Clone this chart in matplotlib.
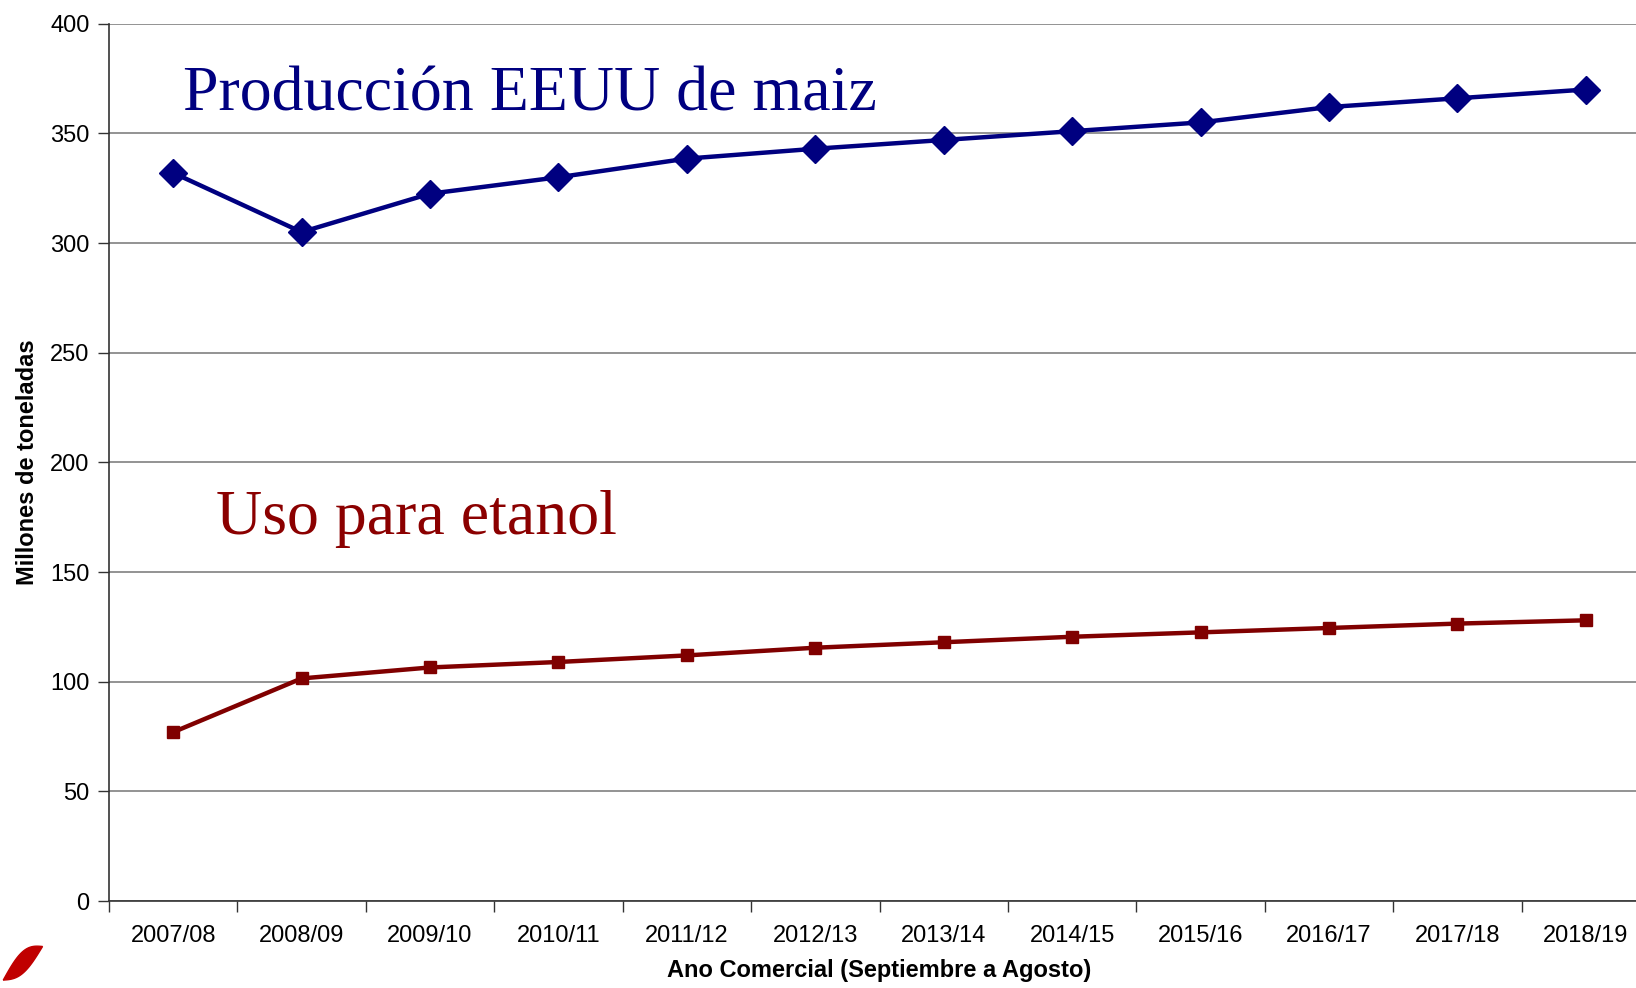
import numpy as np
import matplotlib.pyplot as plt
from matplotlib.patches import Polygon

# campaign years (Sept - Aug)
years = ['2007/08', '2008/09', '2009/10', '2010/11', '2011/12', '2012/13',
         '2013/14', '2014/15', '2015/16', '2016/17', '2017/18', '2018/19']
# US corn production, million tonnes
produccion = [332, 305, 322.5, 330, 338.5, 343, 347, 351, 355, 362, 366, 370]
# corn used for ethanol, million tonnes
etanol = [77, 101.5, 106.5, 109, 112, 115.5, 118, 120.5, 122.5, 124.5, 126.5, 128]

plt.rcParams['font.family'] = ['Liberation Sans', 'DejaVu Sans']

fig = plt.figure(figsize=(16.36, 9.88), dpi=100)
ax = fig.add_axes([0.0666, 0.088, 0.942, 0.888])

x = np.arange(len(years)) + 0.5
ax.plot(x, produccion, color='#000080', lw=3.2, marker='D', markersize=14,
        clip_on=False, zorder=3)
ax.plot(x, etanol, color='#800000', lw=3.2, marker='s', markersize=9,
        clip_on=False, zorder=3)

ax.set_xlim(0, 12)
ax.set_ylim(0, 400)
ax.set_yticks(range(0, 401, 50))
ax.yaxis.grid(True, color='#808080', lw=1.2)
ax.set_axisbelow(True)

# ticks at category boundaries, labels centred
ax.set_xticks(range(0, 13))
ax.set_xticklabels([])
ax.set_xticks(x, minor=True)
ax.set_xticklabels(years, minor=True)
ax.tick_params(axis='x', which='major', length=8, width=1, color='#333333')
ax.tick_params(axis='x', which='minor', length=0, pad=17, labelsize=17)
ax.tick_params(axis='y', length=8, width=1, color='#333333', labelsize=17, pad=6)

for s in ['top', 'right']:
    ax.spines[s].set_visible(False)
for s in ['left', 'bottom']:
    ax.spines[s].set_color('#333333')
    ax.spines[s].set_linewidth(1.2)

ax.set_ylabel('Millones de toneladas', fontsize=17, fontweight='bold', labelpad=8)
ax.set_xlabel('Ano Comercial (Septiembre a Agosto)', fontsize=17,
              fontweight='bold', labelpad=9)

fig.text(0.112, 0.888, 'Producción EEUU de maiz', family='Liberation Serif',
         fontsize=46, color='#000080', va='baseline')
fig.text(0.132, 0.460, 'Uso para etanol', family='Liberation Serif',
         fontsize=46, color='#8B0000', va='baseline')

# small red leaf logo, bottom-left corner
t = np.linspace(0, 1, 30)
upper = [(0.002 + 0.024 * s, 0.008 + 0.034 * s + 0.012 * np.sin(np.pi * s)) for s in t]
lower = [(0.002 + 0.024 * s, 0.008 + 0.034 * s - 0.010 * np.sin(np.pi * s)) for s in t[::-1]]
leaf = Polygon(upper + lower, closed=True, color='#C00000',
               transform=fig.transFigure)
fig.patches.append(leaf)

fig.savefig('out.png', dpi=100)
